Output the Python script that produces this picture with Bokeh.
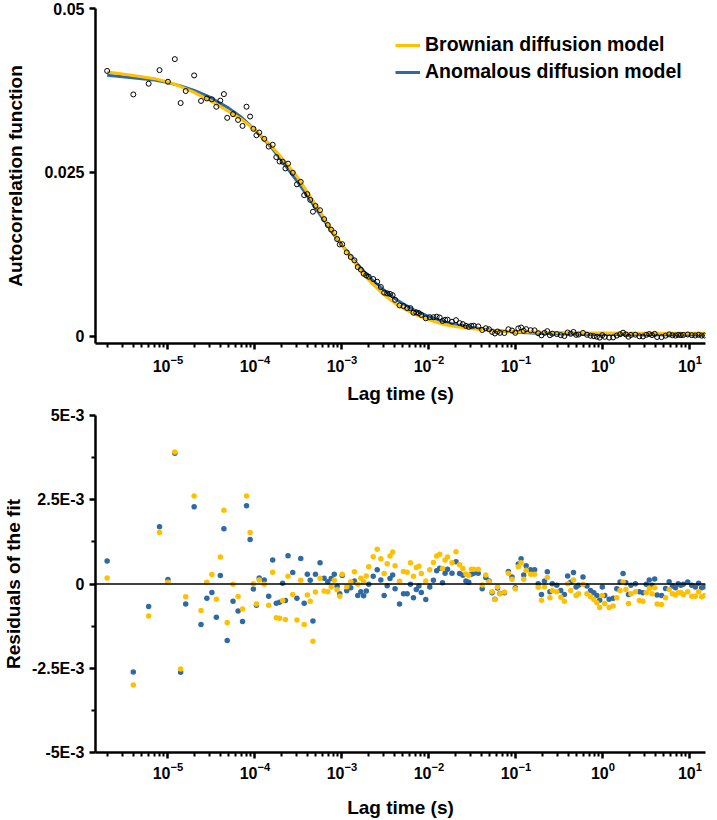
from bokeh.plotting import figure
from bokeh.models import Range1d, FixedTicker, LogTickFormatter, Span, Legend, LegendItem
from bokeh.layouts import column
from bokeh.embed import file_html
from bokeh.resources import INLINE

# ---------------- data ----------------
lag_time_us = [
    2, 4, 6, 8, 10, 12, 14, 16,
    20, 24, 28, 32, 36, 40, 44, 48,
    56, 64, 72, 80, 88, 96, 104, 112,
    128, 144, 160, 176, 192, 208, 224, 240,
    272, 304, 336, 368, 400, 432, 464, 496,
    560, 624, 688, 752, 816, 880, 944, 1008,
    1136, 1264, 1392, 1520, 1648, 1776, 1904, 2032,
    2288, 2544, 2800, 3056, 3312, 3568, 3824, 4080,
    4592, 5104, 5616, 6128, 6640, 7152, 7664, 8176,
    9200, 10224, 11248, 12272, 13296, 14320, 15344, 16368,
    18416, 20464, 22512, 24560, 26608, 28656, 30704, 32752,
    36848, 40944, 45040, 49136, 53232, 57328, 61424, 65520,
    73712, 81904, 90096, 98288, 106480, 114672, 122864, 131056,
    147440, 163824, 180208, 196592, 212976, 229360, 245744, 262128,
    294896, 327664, 360432, 393200, 425968, 458736, 491504, 524272,
    589808, 655344, 720880, 786416, 851952, 917488, 983024, 1048560,
    1179632, 1310704, 1441776, 1572848, 1703920, 1834992, 1966064, 2097136,
    2359280, 2621424, 2883568, 3145712, 3407856, 3670000, 3932144, 4194288,
    4718576, 5242864, 5767152, 6291440, 6815728, 7340016, 7864304, 8388592,
    9437168, 10485744, 11534320, 12582896, 13631472, 14680048,
]

acf_data = [
    0.04048, 0.03689, 0.03853, 0.04060, 0.03883, 0.04228, 0.03558, 0.03741,
    0.03979, 0.03590, 0.03628, 0.03615, 0.03501, 0.03595, 0.03694, 0.03332,
    0.03389, 0.03300, 0.03209, 0.03502, 0.03352, 0.03165, 0.03067, 0.03108,
    0.03012, 0.02894, 0.02921, 0.02733, 0.02666, 0.02662, 0.02561, 0.02634,
    0.02494, 0.02318, 0.02356, 0.02153, 0.02169, 0.02081, 0.01900, 0.01989,
    0.01923, 0.01787, 0.01697, 0.01626, 0.01579, 0.01483, 0.01401, 0.01405,
    0.01280, 0.01209, 0.01159, 0.01056, 0.01017, 0.00955, 0.00929, 0.00909,
    0.00873, 0.00832, 0.00752, 0.00666, 0.00655, 0.00646, 0.00627, 0.00556,
    0.00471, 0.00461, 0.00431, 0.00429, 0.00359, 0.00364, 0.00354, 0.00325,
    0.00274, 0.00291, 0.00291, 0.00299, 0.00287, 0.00234, 0.00252, 0.00254,
    0.00222, 0.00246, 0.00201, 0.00186, 0.00159, 0.00145, 0.00159, 0.00162,
    0.00151, 0.00096, 0.00123, 0.00107, 0.00067, 0.00043, 0.00073, 0.00053,
    0.00050, 0.00108, 0.00088, 0.00053, 0.00120, 0.00134, 0.00083, 0.00109,
    0.00093, 0.00091, 0.00047, 0.00014, 0.00052, 0.00078, 0.00017, 0.00040,
    0.00034, 0.00017, 0.00004, 0.00058, 0.00038, 0.00066, 0.00022, 0.00027,
    0.00051, 0.00023, 0.00009, 0.00002, -0.00007, -0.00021, 0.00017, -0.00008,
    -0.00020, -0.00017, 0.00011, 0.00031, 0.00055, 0.00028, -0.00007, 0.00020,
    0.00024, 0.00000, -0.00003, 0.00022, 0.00034, 0.00018, 0.00037, -0.00011,
    -0.00012, 0.00009, 0.00029, 0.00016, 0.00011, 0.00022, 0.00017, 0.00020,
    0.00027, 0.00017, 0.00012, 0.00023, 0.00010, 0.00013,
]

# residuals in units of 1E-3
res_anomalous_e3 = [
    0.68, -2.61, -0.67, 1.70, 0.13, 3.88, -2.62, -0.59,
    2.29, -1.20, -0.42, -0.25, -0.99, 0.25, 1.64, -1.68,
    -0.51, -0.80, -1.11, 2.32, 1.32, -0.15, -0.63, 0.18,
    0.12, -0.36, 0.71, -0.57, -0.54, 0.02, -0.49, 0.84,
    0.34, -0.42, 0.76, -0.57, 0.29, 0.11, -1.10, 0.29,
    0.63, 0.17, 0.07, 0.16, 0.29, -0.07, -0.29, 0.25,
    -0.20, -0.11, 0.09, -0.34, -0.23, -0.35, -0.21, -0.01,
    0.23, 0.42, 0.12, -0.34, -0.05, 0.16, 0.27, -0.14,
    -0.59, -0.29, -0.29, -0.01, -0.41, -0.16, -0.06, -0.25,
    -0.46, -0.09, 0.11, 0.39, 0.47, 0.04, 0.32, 0.44,
    0.32, 0.66, 0.31, 0.26, 0.09, 0.05, 0.29, 0.32,
    0.32, -0.14, 0.19, 0.09, -0.26, -0.45, -0.12, -0.28,
    -0.26, 0.37, 0.21, -0.11, 0.59, 0.75, 0.27, 0.54,
    0.42, 0.42, 0.01, -0.31, 0.09, 0.36, -0.23, 0.01,
    -0.04, -0.19, -0.31, 0.24, 0.05, 0.34, -0.09, -0.04,
    0.21, -0.06, -0.19, -0.26, -0.34, -0.48, -0.09, -0.34,
    -0.45, -0.42, -0.14, 0.06, 0.31, 0.04, -0.31, -0.04,
    0.01, -0.23, -0.26, -0.01, 0.12, -0.04, 0.15, -0.33,
    -0.34, -0.13, 0.07, -0.06, -0.11, 0.01, -0.04, -0.01,
    0.06, -0.04, -0.09, 0.02, -0.11, -0.08,
]

res_brownian_e3 = [
    0.18, -3.00, -0.95, 1.53, 0.05, 3.92, -2.52, -0.38,
    2.61, -0.79, 0.05, 0.28, -0.45, 0.80, 2.19, -1.14,
    -0.01, -0.37, -0.74, 2.61, 1.53, 0.01, -0.59, 0.12,
    -0.01, -0.63, 0.35, -1.00, -1.02, -0.49, -1.05, 0.23,
    -0.31, -1.07, 0.11, -1.20, -0.33, -0.51, -1.70, -0.24,
    0.17, -0.21, -0.23, -0.09, 0.11, -0.17, -0.36, 0.29,
    -0.08, 0.07, 0.36, -0.01, 0.17, 0.07, 0.24, 0.51,
    0.81, 1.03, 0.75, 0.31, 0.60, 0.83, 0.95, 0.54,
    0.08, 0.37, 0.35, 0.63, 0.23, 0.49, 0.53, 0.31,
    0.09, 0.42, 0.64, 0.83, 0.88, 0.46, 0.71, 0.80,
    0.63, 0.96, 0.57, 0.46, 0.30, 0.26, 0.44, 0.44,
    0.44, -0.03, 0.27, 0.07, -0.23, -0.46, -0.09, -0.29,
    -0.24, 0.32, 0.14, -0.14, 0.51, 0.63, 0.14, 0.41,
    0.29, 0.29, -0.10, -0.48, -0.08, 0.19, -0.41, -0.19,
    -0.23, -0.39, -0.51, 0.01, -0.19, 0.12, -0.34, -0.29,
    -0.01, -0.29, -0.38, -0.46, -0.56, -0.70, -0.34, -0.58,
    -0.70, -0.65, -0.41, -0.19, 0.06, -0.16, -0.58, -0.29,
    -0.23, -0.49, -0.51, -0.26, -0.13, -0.29, -0.11, -0.59,
    -0.61, -0.41, -0.16, -0.29, -0.33, -0.26, -0.26, -0.31,
    -0.23, -0.36, -0.36, -0.23, -0.38, -0.34,
]

fit_lag_s = [2e-6, 3e-6, 5e-6, 7e-6, 1e-5, 1.4e-5, 2e-5, 3e-5, 5e-5, 7e-5,
             1e-4, 1.5e-4, 2e-4, 3e-4, 4e-4, 5e-4, 6e-4, 8e-4, 1e-3, 1.3e-3,
             1.7e-3, 2.2e-3, 3e-3, 4e-3, 5e-3, 7e-3, 1e-2, 1.5e-2, 2e-2, 3e-2,
             5e-2, 0.1, 0.2, 0.5, 1.0, 3.0, 15.0]
fit_anomalous = [0.0398, 0.0396, 0.0393, 0.0391, 0.0387, 0.0382, 0.0375, 0.0365, 0.0348, 0.0334,
                 0.0315, 0.0290, 0.0269, 0.0238, 0.0214, 0.0195, 0.0180, 0.0156, 0.0139, 0.0120,
                 0.0102, 0.0087, 0.0071, 0.0058, 0.0050, 0.0039, 0.0030, 0.0022, 0.0018, 0.0014,
                 0.00096, 0.00063, 0.00044, 0.00031, 0.00026, 0.00022, 0.00021]
fit_brownian = [0.0403, 0.0400, 0.0396, 0.0393, 0.0388, 0.0381, 0.0372, 0.0360, 0.0343, 0.0331,
                0.0315, 0.0292, 0.0273, 0.0245, 0.0220, 0.0200, 0.0184, 0.0158, 0.0139, 0.0118,
                0.0098, 0.0081, 0.0064, 0.0051, 0.0043, 0.0033, 0.0025, 0.0018, 0.0015, 0.0012,
                0.0009, 0.0007, 0.0006, 0.00053, 0.00051, 0.00047, 0.00046]

legend_labels = ["Brownian diffusion model", "Anomalous diffusion model"]
x_major_ticks = [1e-5, 1e-4, 1e-3, 1e-2, 1e-1, 1.0, 10.0]
top_y_ticks = [0.0, 0.025, 0.05]
top_y_labels = ["0", "0.025", "0.05"]
bottom_y_ticks = [-0.005, -0.0025, 0.0, 0.0025, 0.005]
bottom_y_labels = ["-5E-3", "-2.5E-3", "0", "2.5E-3", "5E-3"]
bottom_y_minor = [-0.00375, -0.00125, 0.00125, 0.00375]

YELLOW = "#FFC000"
BLUE = "#2F6AA5"
FONT = "Liberation Sans"

lag_s = [v * 1e-6 for v in lag_time_us]
res_anom = [v * 1e-3 for v in res_anomalous_e3]
res_brown = [v * 1e-3 for v in res_brownian_e3]

x_minor = [m * 10.0 ** e for e in range(-6, 2) for m in range(2, 10)]
X_RANGE = (1.47e-6, 15.1)


def style(p, xlabel, ylabel, ylabel_standoff, xlab_standoff, xtitle_standoff):
    p.xgrid.visible = False
    p.ygrid.visible = False
    p.outline_line_color = None
    p.background_fill_color = "white"
    p.border_fill_color = "white"
    p.xaxis.ticker = FixedTicker(ticks=x_major_ticks, minor_ticks=x_minor)
    p.xaxis.formatter = LogTickFormatter()
    for ax in p.axis:
        ax.axis_line_width = 2.5
        ax.axis_line_color = "black"
        ax.major_tick_line_width = 2.5
        ax.minor_tick_line_width = 2
        ax.major_tick_out = 6
        ax.major_tick_in = 0
        ax.minor_tick_out = 4
        ax.minor_tick_in = 0
        ax.major_label_text_font = FONT
        ax.major_label_text_font_style = "bold"
        ax.major_label_text_font_size = "16px"
        ax.major_label_text_color = "black"
        ax.axis_label_text_font = FONT
        ax.axis_label_text_font_style = "bold"
        ax.axis_label_text_font_size = "19px"
        ax.axis_label_text_color = "black"
    p.xaxis.axis_label = xlabel
    p.yaxis.axis_label = ylabel
    p.xaxis.major_label_standoff = xlab_standoff
    p.xaxis.axis_label_standoff = xtitle_standoff
    p.yaxis.axis_label_standoff = ylabel_standoff


# ---------------- top: autocorrelation ----------------
p1 = figure(width=712, height=406, x_axis_type="log",
            x_range=Range1d(*X_RANGE), y_range=Range1d(-0.0011, 0.05),
            output_backend="svg", toolbar_location=None,
            min_border_left=95, min_border_right=7, min_border_top=8, min_border_bottom=30)
style(p1, "Lag time (s)", "Autocorrelation function", 15, 5, 8)
p1.yaxis.ticker = FixedTicker(ticks=top_y_ticks, minor_ticks=[])
p1.yaxis.major_label_overrides = dict(zip(top_y_ticks, top_y_labels))

r_b = p1.line(fit_lag_s, fit_anomalous, line_color=BLUE, line_width=3)
r_y = p1.line(fit_lag_s, fit_brownian, line_color=YELLOW, line_width=3)
p1.scatter(lag_s, acf_data, marker="circle", size=5, fill_color=None,
           line_color="black", line_width=1)

legend = Legend(items=[LegendItem(label=legend_labels[0], renderers=[r_y]),
                       LegendItem(label=legend_labels[1], renderers=[r_b])],
                location=(300, 260), padding=0, margin=0, spacing=4,
                glyph_width=25, glyph_height=20, label_height=20, label_standoff=5,
                label_text_font=FONT, label_text_font_style="bold",
                label_text_font_size="19.5px", label_text_color="black",
                border_line_color=None, background_fill_alpha=0)
p1.add_layout(legend)

# ---------------- bottom: residuals ----------------
p2 = figure(width=712, height=414, x_axis_type="log",
            x_range=Range1d(*X_RANGE), y_range=Range1d(-0.005, 0.005),
            output_backend="svg", toolbar_location=None,
            min_border_left=95, min_border_right=7, min_border_top=9, min_border_bottom=30)
style(p2, "Lag time (s)", "Residuals of the fit", 5, 3, 15)
p2.yaxis.ticker = FixedTicker(ticks=bottom_y_ticks, minor_ticks=bottom_y_minor)
p2.yaxis.major_label_overrides = dict(zip(bottom_y_ticks, bottom_y_labels))

p2.add_layout(Span(location=0, dimension="width", line_color="black", line_width=1.5))
p2.scatter(lag_s, res_anom, marker="circle", size=5.5, fill_color=BLUE, line_color=None)
p2.scatter(lag_s, res_brown, marker="circle", size=5.5, fill_color=YELLOW, line_color=None)

layout = column(p1, p2, spacing=0)
open("out.html", "w").write(file_html(layout, INLINE))
